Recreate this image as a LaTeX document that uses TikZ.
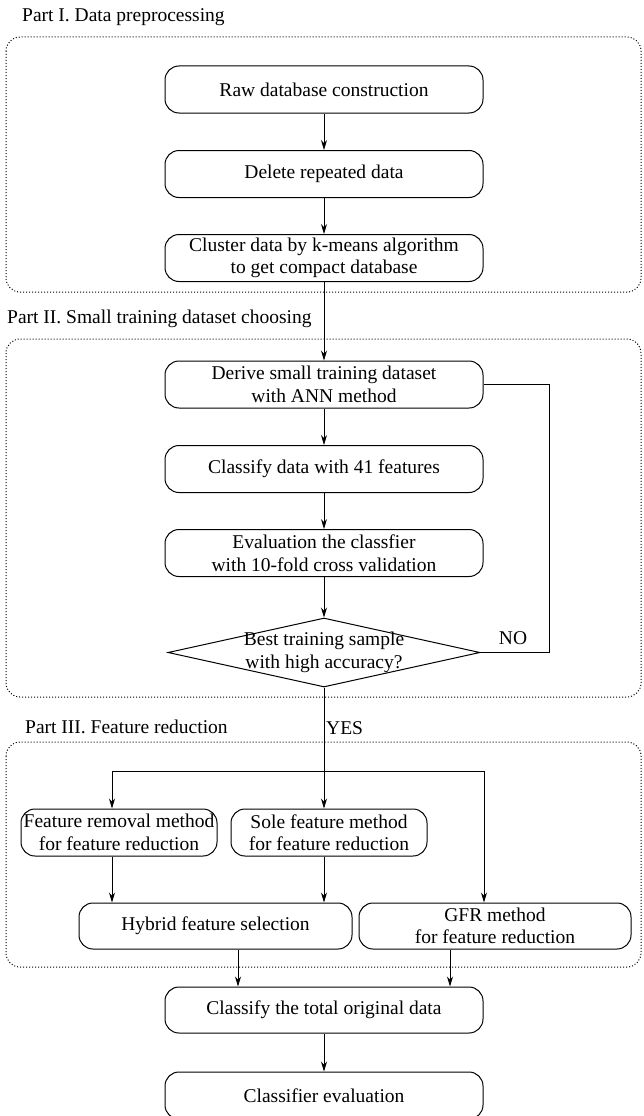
\documentclass[tikz,border=0pt]{standalone}
\usepackage{fontspec}
\setmainfont{Liberation Serif}
\usetikzlibrary{arrows.meta,shapes.geometric}

\tikzset{
  stepbox/.style={draw, line width=1pt, rounded corners=14pt, minimum width=318pt, minimum height=47pt, inner sep=0pt, align=center},
  partbox/.style={dotted, line width=1pt, rounded corners=14pt},
  parttitle/.style={anchor=west, inner sep=0pt},
  decide/.style={draw, diamond, line width=1pt, aspect=4.5, minimum width=312pt, minimum height=69pt, inner xsep=-40pt, inner ysep=-5pt, align=center},
  link/.style={line width=0.8pt, ->},
}

\begin{document}
\begin{tikzpicture}[x=1pt, y=-1pt, >={Stealth[length=10pt,width=6pt]}, font=\fontsize{19.5}{22.5}\selectfont]
    \useasboundingbox (0,0) rectangle (643,1116);

    % Part I: data preprocessing
    \node[parttitle] (t1) at (22,17) {Part I. Data preprocessing};
    \draw[partbox] (6,37) rectangle (641,292);
    \node[stepbox] (raw) at (324,89.5) {Raw database construction};
    \node[stepbox] (del) at (324,174) {Delete repeated data};
    \node[stepbox] (clus) at (324,258) {Cluster data by k-means algorithm\\to get compact database};

    % Part II: small training dataset
    \node[parttitle] (t2) at (7,319) {Part II. Small training dataset choosing};
    \draw[partbox] (6,339) rectangle (641,697);
    \node[stepbox] (derive) at (324,384.5) {Derive small training dataset\\with ANN method};
    \node[stepbox] (cls41) at (324,469) {Classify data with 41 features};
    \node[stepbox] (eval) at (324,553) {Evaluation the classfier\\with 10-fold cross validation};
    \node[decide] (best) at (324,652.5) {Best training sample\\with high accuracy?};
    \coordinate (loop) at (549,500);
    \node (no) at (513,638) {NO};

    % Part III: feature reduction
    \node[parttitle] (t3) at (25,727) {Part III. Feature reduction};
    \node[parttitle] (yes) at (326,728) {YES};
    \draw[partbox] (6,742) rectangle (641,967);
    \coordinate (splitL) at (112,771);
    \coordinate (splitR) at (484,771);
    \node[stepbox, minimum width=196pt] (frm) at (119,832.5) {Feature removal method\\for feature reduction};
    \node[stepbox, minimum width=196pt] (sole) at (329,832.5) {Sole feature method\\for feature reduction};
    \node[stepbox, minimum width=273pt, minimum height=46pt] (hyb) at (215.5,926) {Hybrid feature selection};
    \node[stepbox, minimum width=272pt, minimum height=46pt] (gfr) at (495,926) {GFR method\\for feature reduction};

    % Final steps
    \node[stepbox, minimum height=46pt] (total) at (324,1010) {Classify the total original data};
    \node[stepbox] (clev) at (324,1095.5) {Classifier evaluation};

    % Arrows
    \draw[link] (raw) -- (del);
    \draw[link] (del) -- (clus);
    \draw[link] (clus) -- (derive);
    \draw[link] (derive) -- (cls41);
    \draw[link] (cls41) -- (eval);
    \draw[link] (eval) -- (best);
    \draw[line width=0.8pt] (best.east) -- (best.east -| loop) |- (derive.east);
    \draw[link] (best.south) -- (best.south |- sole.north);
    \draw[line width=0.8pt] (splitL) -- (splitR);
    \draw[link] (splitL) -- (splitL |- frm.north);
    \draw[link] (splitR) -- (splitR |- gfr.north);
    \draw[link] (splitL |- frm.south) -- (splitL |- hyb.north);
    \draw[link] (best.south |- sole.south) -- (best.south |- hyb.north);
    \draw[link] ([xshift=22.5pt]hyb.south) -- ([xshift=22.5pt]hyb.south |- total.north);
    \draw[link] ([xshift=-45pt]gfr.south) -- ([xshift=-45pt]gfr.south |- total.north);
    \draw[link] (total) -- (clev);
\end{tikzpicture}
\end{document}
